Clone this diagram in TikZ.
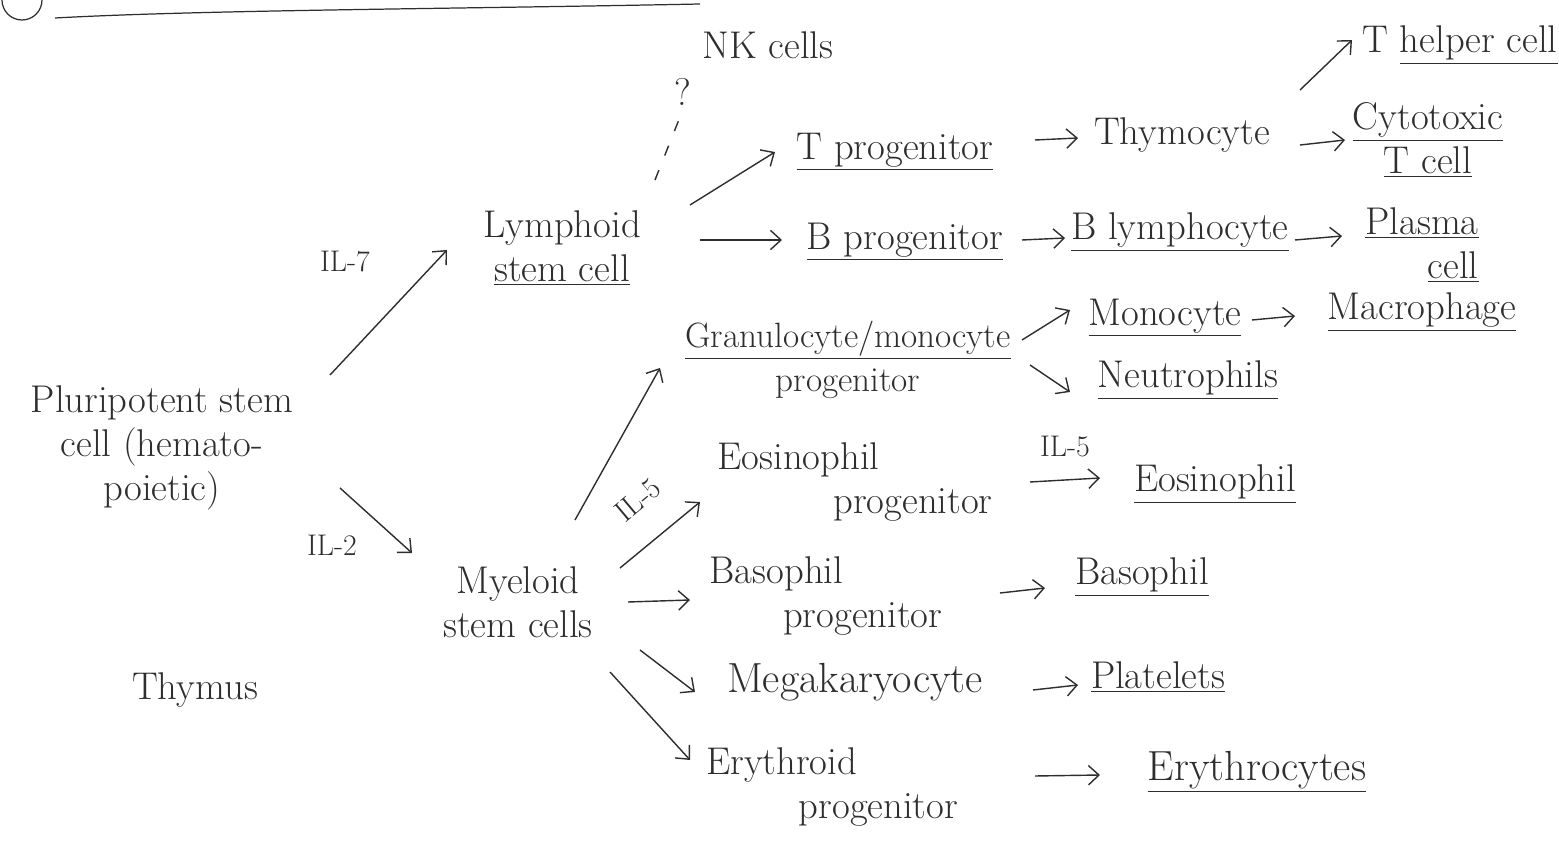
\documentclass[tikz,border=0pt]{standalone}
\usetikzlibrary{arrows.meta}
\colorlet{ink}{black!82}
\begin{document}
\begin{tikzpicture}[x=0.02cm,y=-0.02cm,
  lab/.style={font=\fontsize{22}{25}\selectfont, inner sep=2pt, align=center, text=ink},
  cyt/.style={font=\fontsize{17}{19}\selectfont, inner sep=1pt, text=ink},
  arr/.style={draw=ink, line width=0.8pt, -{Straight Barb[length=6pt,width=11pt]}},
  dsh/.style={draw=ink, line width=0.8pt, dash pattern=on 6pt off 9pt}]
\useasboundingbox (0,0) rectangle (1559,854);
% clipped title remnants
\begin{scope}
\clip (0,0) rectangle (1559,854);
\draw[ink, line width=0.7pt] (22,0) circle (20);
\draw[ink, line width=0.7pt] (55,18) .. controls (200,10) and (450,9) .. (700,4);
\end{scope}
% nodes
\node[lab] (pl) at (162,448) {Pluripotent stem\\cell (hemato-\\poietic)};
\node[lab] (thy) at (195,690) {Thymus};
\node[lab] (lym) at (562,248) {Lymphoid\\\underline{stem cell}};
\node[lab] (mye) at (518,602) {Myeloid\\stem cells};
\node[lab] (nk) at (768,45) {NK cells};
\node[lab] (q) at (683,92) {?};
\node[lab] (tp) at (895,152) {\underline{T progenitor}};
\node[lab] (thm) at (1182,135) {Thymocyte};
\node[lab] (th) at (1460,45) {T \underline{helper cell}};
\node[lab] (ct) at (1428,140) {\underline{Cytotoxic}\\\underline{T cell}};
\node[lab] (bp) at (905,242) {\underline{B progenitor}};
\node[lab] (bl) at (1180,232) {\underline{B lymphocyte}};
\node[lab, align=right] (pc) at (1422,245) {\underline{Plasma}\\\underline{cell}};
\node[lab, font=\fontsize{20}{25}\selectfont] (gm) at (848,360) {\underline{Granulocyte/monocyte}\\progenitor};
\node[lab] (mo) at (1165,318) {\underline{Monocyte}};
\node[lab] (ma) at (1422,312) {\underline{Macrophage}};
\node[lab] (ne) at (1188,380) {\underline{Neutrophils}};
\node[lab, align=left] (ep) at (855,482) {Eosinophil\\\hspace*{3em}progenitor};
\node[lab] (eo) at (1215,484) {\underline{Eosinophil}};
\node[lab, align=left] (bap) at (826,596) {Basophil\\\hspace*{1.9em}progenitor};
\node[lab] (ba) at (1142,577) {\underline{Basophil}};
\node[lab, font=\fontsize{24}{25}\selectfont] (mk) at (855,682) {Megakaryocyte};
\node[lab] (plt) at (1158,677) {\underline{Platelets}};
\node[lab, align=left] (erp) at (832,787) {Erythroid\\\hspace*{2.4em}progenitor};
\node[lab, font=\fontsize{24}{25}\selectfont] (ery) at (1257,772) {\underline{Erythrocytes}};
% cytokine labels
\node[cyt] (il7) at (345,262) {IL-7};
\node[cyt] (il2) at (332,545) {IL-2};
\node[cyt, rotate=40] (il5a) at (638,500) {IL-5};
\node[cyt] (il5b) at (1065,447) {IL-5};
% connectors
\draw[arr] ([shift={(168,-73)}]pl.center) -- ([shift={(-115,2)}]lym.center);
\draw[arr] ([shift={(178,40)}]pl.center) -- ([shift={(-106,-49)}]mye.center);
\draw[dsh] ([shift={(93,-68)}]lym.center) -- (q.south);
\draw[arr] ([shift={(128,-43)}]lym.center) -- ([shift={(-120,0)}]tp.center);
\draw[arr] ([shift={(138,-8)}]lym.center) -- ([shift={(-123,-2)}]bp.center);
\draw[arr] ([shift={(140,-12)}]tp.center) -- ([shift={(-104,3)}]thm.center);
\draw[arr] ([shift={(118,-45)}]thm.center) -- ([shift={(-108,-5)}]th.center);
\draw[arr] ([shift={(118,10)}]thm.center) -- ([shift={(-83,0)}]ct.center);
\draw[arr] ([shift={(117,-2)}]bp.center) -- ([shift={(-115,6)}]bl.center);
\draw[arr] ([shift={(115,8)}]bl.center) -- ([shift={(-80,-9)}]pc.center);
\draw[arr] ([shift={(57,-82)}]mye.center) -- ([shift={(-188,8)}]gm.center);
\draw[arr] ([shift={(102,-34)}]mye.center) -- ([shift={(-155,20)}]ep.center);
\draw[arr] ([shift={(110,0)}]mye.center) -- ([shift={(-136,4)}]bap.center);
\draw[arr] ([shift={(122,48)}]mye.center) -- ([shift={(-160,10)}]mk.center);
\draw[arr] ([shift={(92,70)}]mye.center) -- ([shift={(-142,-27)}]erp.center);
\draw[arr] ([shift={(174,-20)}]gm.center) -- ([shift={(-95,-8)}]mo.center);
\draw[arr] ([shift={(182,5)}]gm.center) -- ([shift={(-118,12)}]ne.center);
\draw[arr] ([shift={(87,2)}]mo.center) -- ([shift={(-127,4)}]ma.center);
\draw[arr] ([shift={(175,0)}]ep.center) -- ([shift={(-115,-6)}]eo.center);
\draw[arr] ([shift={(174,-3)}]bap.center) -- ([shift={(-97,11)}]ba.center);
\draw[arr] ([shift={(178,8)}]mk.center) -- ([shift={(-80,8)}]plt.center);
\draw[arr] ([shift={(203,-11)}]erp.center) -- ([shift={(-157,3)}]ery.center);
\end{tikzpicture}
\end{document}
